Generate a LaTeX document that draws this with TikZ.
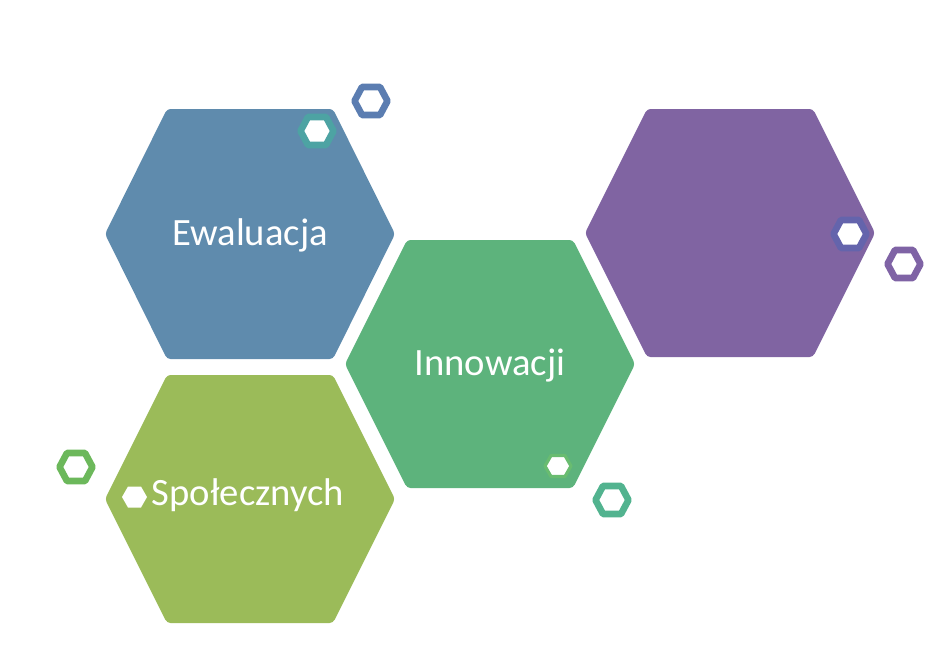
\documentclass[tikz,border=0pt]{standalone}
\usepackage{fontspec}
\setmainfont{Carlito}
\usepackage{tikz}
\definecolor{hexblue}{HTML}{5F8BAD}
\definecolor{hexgreen}{HTML}{5DB37C}
\definecolor{hexpurple}{HTML}{8064A2}
\definecolor{hexolive}{HTML}{9BBB59}
\definecolor{ringblue}{HTML}{5B7DB1}
\definecolor{ringteal}{HTML}{4DA3A3}
\definecolor{ringindigo}{HTML}{6464AC}
\definecolor{ringpurple}{HTML}{7F63A5}
\definecolor{ringgreen}{HTML}{6CB85B}
\definecolor{ringlight}{HTML}{69BC70}
\definecolor{ringsea}{HTML}{52B38F}
\tikzstyle{big}=[rounded corners=2pt]
\tikzstyle{ring}=[fill=white,
                  line width=3.8pt,
                  line join=round]
\tikzstyle{lbl}=[text=white,
                 anchor=base,
                 inner sep=0pt,
                 font=\fontsize{22}{26}\selectfont]
% hexagon: style, centre, half width, half height, half top edge
\newcommand{\hexa}[5]{%
  \path[#1, shift={(#2)}] (-#3,0) -- (-#5,-#4) -- (#5,-#4) -- (#3,0)
    -- (#5,#4) -- (-#5,#4) -- cycle;}

\begin{document}
\begin{tikzpicture}[x=0.02cm, y=-0.02cm]
\useasboundingbox (0,0) rectangle (937,664);

% big hexagons
\hexa{big, fill=hexblue}{250,234}{145}{125}{83}
\hexa{big, fill=hexgreen}{490,364}{145}{124}{83}
\hexa{big, fill=hexpurple}{730,233}{145}{124}{83}
\hexa{big, fill=hexolive}{250,499}{145}{124}{83}

% small hexagons
\hexa{ring, draw=ringblue}{371,101}{16.5}{14}{9}
\hexa{ring, draw=ringteal}{317,131}{16.5}{14}{9}
\hexa{ring, draw=ringindigo}{850,234}{16.5}{14}{9}
\hexa{ring, draw=ringpurple}{904,264}{16.5}{14}{9}
\hexa{ring, draw=ringgreen}{76,467}{16.5}{14}{9}
\hexa{ring, draw=ringsea}{612,500}{16.5}{14}{9}
\hexa{ring, line width=1.8pt, draw=ringlight}{558,466}{13}{10.5}{7}
\hexa{fill=white}{134.5,497}{12.5}{10.5}{6.5}

% labels
\node[lbl] (ewal) at (250,245) {Ewaluacja};
\node[lbl] (innow) at (490,375) {Innowacji};
\node[lbl] (spol) at (248,505) {Społecznych};

\end{tikzpicture}
\end{document}
